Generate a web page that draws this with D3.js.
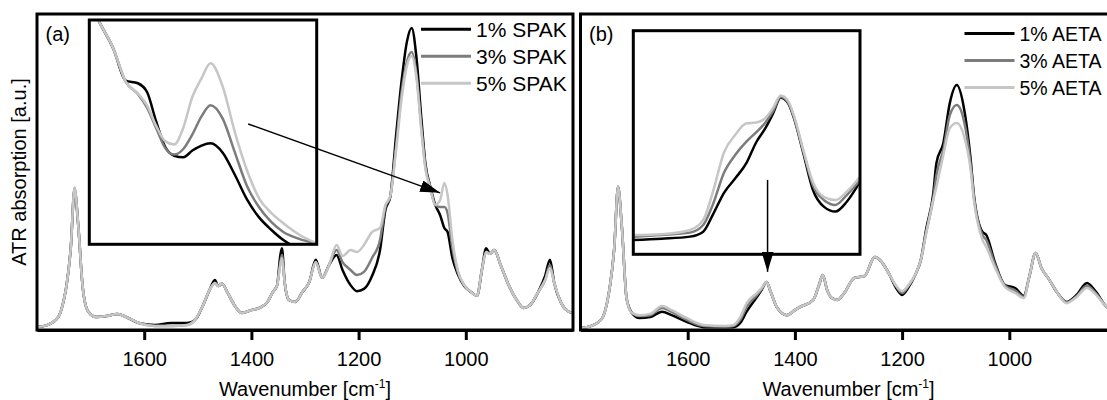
<!DOCTYPE html>
<html>
<head>
<meta charset="utf-8">
<script src="https://cdn.jsdelivr.net/npm/d3@7"></script>
<style>
  body { margin: 0; background: #fff; }
  text { font-family: "Liberation Sans", Arial, sans-serif; fill: #000; }
</style>
</head>
<body>
<div id="chart"></div>
<script>
// ---- data (absorbance in arbitrary units, 0..100 = frame bottom..top) ----
var wnA = [1800,1780,1760,1750,1745,1737,1730,1723,1715,1705,1690,1670,1650,1630,1610,1580,1550,1520,1505,1490,1478,
  1468,1462,1455,1445,1432,1418,1400,1385,1370,1360,1352,1346,1343,1338,1330,1318,1305,1292,1280,1268,
  1255,1241,1230,1215,1203,1190,1175,1160,1150,1141,1130,1120,1110,1101,1092,1083,1075,1067,1057,1048,
  1040,1034,1025,1015,1003,990,979,970,962,955,947,935,920,905,892,880,865,852,843,835,822,810,800];

var spak1 = [0.9,1.6,4.2,9.5,14.0,26.0,44.3,33.0,14.0,6.0,4.1,4.4,5.1,3.8,2.2,1.6,2.2,2.2,3.2,7.9,12.7,
  15.8,13.9,14.6,12.0,7.9,5.4,6.3,7.0,8.9,12.0,14.2,23.7,25.9,15.2,9.5,8.9,12.0,15.2,22.2,16.5,
  20.6,23.7,19.0,14.2,12.3,13.0,17.1,25.3,38.0,42.1,61.7,78.5,91.1,95.6,86.1,67.1,52.2,45.9,39.6,36.4,
  32.3,31.0,22.8,17.7,13.9,12.0,10.8,19.0,25.9,24.1,25.3,20.6,14.2,9.5,7.0,7.9,12.0,17.1,22.2,14.9,8.5,6.0,5.4];

var spak3 = [0.9,1.6,4.2,9.5,14.0,26.0,45.0,33.0,14.0,6.0,4.1,4.4,5.1,3.8,2.2,1.3,1.3,1.6,3.2,7.9,12.7,
  14.9,13.9,14.6,12.0,7.9,5.4,6.3,7.0,8.9,12.0,14.2,21.5,23.7,15.2,9.5,8.9,12.0,15.2,21.5,16.5,
  20.6,25.3,21.5,19.0,17.4,18.4,22.8,28.5,38.9,42.1,58.5,75.0,84.8,88.0,81.0,64.2,51.3,45.6,39.6,38.9,
  38.9,37.0,25.9,18.4,14.2,12.0,10.8,19.0,24.7,24.1,25.3,20.6,14.2,9.5,7.0,7.9,12.0,15.8,20.6,14.9,8.5,6.0,5.4];

var spak5 = [0.9,1.6,4.2,9.5,14.0,26.0,44.9,33.0,14.0,6.0,4.1,4.4,5.1,3.8,2.2,1.3,1.3,1.6,3.2,7.9,12.7,
  14.9,13.9,14.6,12.0,7.9,5.4,6.3,7.0,8.9,12.0,14.2,20.6,22.8,15.2,9.5,8.9,12.0,15.2,21.5,16.5,
  20.6,26.9,23.4,25.3,24.7,26.9,31.0,32.3,39.6,42.4,57.0,72.8,83.5,86.7,79.7,63.3,50.6,45.3,39.6,41.1,
  46.5,42.7,28.5,19.0,14.2,12.0,10.8,19.0,24.7,24.1,25.3,20.6,14.2,9.5,7.0,7.9,12.0,15.8,19.6,14.9,8.5,6.0,5.4];

var wnB = [1800,1780,1760,1750,1745,1737,1730,1723,1714,1704,1690,1670,1648,1630,1602,1570,1530,1515,1502,1490,1471,
  1462,1453,1445,1434,1415,1400,1390,1366,1355,1348,1340,1331,1321,1308,1289,1270,1251,1238,1225,1212,
  1200,1188,1174,1165,1155,1142,1136,1123,1111,1098,1085,1072,1066,1050,1043,1027,1008,989,973,962,
  951,940,925,910,893,875,855,838,818,800];

var aetac1 = [0.6,1.3,3.6,9.0,14.0,26.0,45.3,33.0,10.0,5.4,3.8,4.1,5.8,4.7,2.6,0.9,0.9,0.9,2.2,5.8,10.4,
  12.7,15.2,12.0,7.3,4.7,6.3,7.3,9.5,14.2,17.4,12.7,10.1,9.5,11.7,16.5,17.1,23.1,21.5,18.0,13.5,
  11.1,13.5,18.0,22.2,32.0,43.0,52.8,59.2,71.8,77.5,70.6,53.8,42.7,31.0,30.1,21.5,14.2,13.3,10.8,17.4,
  24.4,19.6,15.8,11.7,8.9,11.0,14.9,12.0,7.3,6.3];

var aetac3 = [0.6,1.3,3.6,9.0,14.0,26.0,45.3,33.0,10.0,5.4,4.4,4.7,7.0,5.7,3.2,1.3,1.1,1.3,3.2,7.3,11.0,
  13.0,15.2,12.0,7.3,4.7,6.3,7.3,9.5,14.2,17.4,12.7,10.1,9.5,11.7,16.5,17.1,23.1,21.5,18.0,14.0,
  11.7,14.0,18.0,22.2,31.0,41.5,49.0,57.0,68.0,71.2,66.5,52.2,42.0,30.0,28.5,20.8,14.0,12.5,10.5,17.4,
  24.4,19.6,15.8,11.7,8.7,10.6,14.0,11.5,7.3,6.3];

var aetac5 = [0.6,1.3,3.6,9.0,14.0,26.0,45.3,33.0,10.0,5.4,4.7,5.1,7.6,6.3,3.8,1.6,1.3,1.6,4.1,8.5,11.7,
  13.3,15.2,12.0,7.3,4.7,6.3,7.3,9.5,14.2,17.4,12.7,10.1,9.5,11.7,16.5,17.1,23.1,21.5,18.0,14.2,
  12.3,14.2,18.0,22.2,30.7,41.1,45.3,55.4,63.9,65.5,61.7,50.6,41.1,28.5,26.3,19.9,13.6,11.7,10.1,17.4,
  24.4,19.6,15.8,11.7,8.5,10.4,13.3,11.1,7.3,6.3];

// inset (a): zoom around the 1040 band, own scale
var insetWnA = [1074,1072,1067,1063,1059,1056,1053,1050,1047,1044,1041,1038,1035,1031,1027,1023,1019,1015,1011,1006,1000];
var insetSpak1 = [106,100,87,73,71.8,68,55,43.5,39.5,38.8,41.8,44,45,40.8,31,20,12,6.5,1.9,-2,-5];
var insetSpak3 = [106,100,87,72.5,67,61,52,43,40,42.5,49,57,62,56,41,26,16.5,10,5.5,2.5,0.3];
var insetSpak5 = [106,100,87,72.5,67.3,62,53,46,44.5,52,65.8,74,80.7,70.3,50,33,20.5,14,9.4,4.5,0.4];

// inset (b): zoom around the 1455 band
var insetWnB = [1520,1505,1490,1483,1478,1472,1466,1460,1455,1450,1446,1442,1438,1435,1430,1425,1419,1413,1407,1400];
var insetAetac1 = [6.4,7.0,7.9,10.1,17.5,27.5,34,41,50,56.5,63,70,67.5,61,45.2,29,21.2,19.1,23.5,32.5];
var insetAetac3 = [7.9,8.6,9.7,13.1,22,36.5,44.5,50.5,54.5,59,64,70.3,67.8,61.5,46.1,31,24.2,22.1,26.5,33.2];
var insetAetac5 = [8.6,9.0,10.9,15.4,27.5,45.5,53.5,58.6,58.9,61,65.5,71,68.5,62,46.6,32.5,25.6,24.3,28,34.7];

var xTicks = [1600, 1400, 1200, 1000];
var legendA = ["1% SPAK", "3% SPAK", "5% SPAK"];
var legendB = ["1% AETA", "3% AETA", "5% AETA"];

// arrows: [wavenumber, absorbance] start -> end on main scale
var arrowA = [[1406, 65.2], [1048, 43.4]];
var arrowB = [[1451, 47.5], [1451, 18.4]];

// ---- layout ----
var svgWidth = 1107, svgHeight = 400;
var plotTop = 14, plotH = 316, plotW = 536;
var colors = ["#000000", "#7c7c7c", "#c6c6c6"];

var svg = d3.select("#chart").append("svg")
  .attr("width", svgWidth)
  .attr("height", svgHeight);

svg.append("defs").append("marker")
  .attr("id", "head")
  .attr("markerUnits", "userSpaceOnUse")
  .attr("viewBox", "0 0 20 12")
  .attr("markerWidth", 20)
  .attr("markerHeight", 12)
  .attr("refX", 20)
  .attr("refY", 6)
  .attr("orient", "auto")
  .append("path")
  .attr("d", "M0,0 L20,6 L0,12 Z")
  .attr("fill", "#000");

function makeSeries(wn, vals) {
  return wn.map(function(w, i) { return {wn: w, v: vals[i]}; });
}

function drawPanel(opt) {
  var g = svg.append("g").attr("transform", `translate(${opt.left}, ${plotTop})`);

  var x = d3.scaleLinear().domain([1800, 800]).range([0, plotW]);
  var y = d3.scaleLinear().domain([0, 100]).range([plotH, 0]);

  var clipId = "clip" + opt.id;
  svg.select("defs").append("clipPath").attr("id", clipId)
    .append("rect").attr("width", plotW).attr("height", plotH);

  var line = d3.line()
    .x(d => x(d.wn))
    .y(d => y(d.v))
    .curve(d3.curveMonotoneX);

  var lines = g.append("g").attr("clip-path", `url(#${clipId})`);
  opt.series.forEach(function(s, i) {
    lines.append("path")
      .datum(makeSeries(opt.wn, s))
      .attr("fill", "none")
      .attr("stroke", colors[i])
      .attr("stroke-width", 2.5)
      .attr("stroke-linejoin", "round")
      .attr("d", line);
  });

  // inset
  var ins = opt.inset;
  var ix = d3.scaleLinear().domain(ins.domain).range([ins.x0, ins.x1]);
  var iy = d3.scaleLinear().domain([0, 100]).range([ins.y1, ins.y0]);
  var iclip = "iclip" + opt.id;
  svg.select("defs").append("clipPath").attr("id", iclip)
    .append("rect").attr("x", ins.x0).attr("y", ins.y0)
    .attr("width", ins.x1 - ins.x0).attr("height", ins.y1 - ins.y0);
  var iline = d3.line().x(d => ix(d.wn)).y(d => iy(d.v)).curve(d3.curveMonotoneX);
  var ig = g.append("g").attr("clip-path", `url(#${iclip})`);
  ins.series.forEach(function(s, i) {
    ig.append("path")
      .datum(makeSeries(ins.wn, s))
      .attr("fill", "none")
      .attr("stroke", colors[i])
      .attr("stroke-width", 2.5)
      .attr("d", iline);
  });
  g.append("rect")
    .attr("x", ins.x0).attr("y", ins.y0)
    .attr("width", ins.x1 - ins.x0).attr("height", ins.y1 - ins.y0)
    .attr("fill", "none").attr("stroke", "#000").attr("stroke-width", 3);

  // arrow
  g.append("line")
    .attr("x1", x(opt.arrow[0][0])).attr("y1", y(opt.arrow[0][1]))
    .attr("x2", x(opt.arrow[1][0])).attr("y2", y(opt.arrow[1][1]))
    .attr("stroke", "#000").attr("stroke-width", 1.5)
    .attr("marker-end", "url(#head)");

  // frame
  g.append("rect")
    .attr("width", plotW).attr("height", plotH)
    .attr("fill", "none").attr("stroke", "#000").attr("stroke-width", 3);

  // x axis
  var xAxis = d3.axisBottom(x).tickValues(xTicks).tickFormat(d3.format("d"))
    .tickSize(10).tickSizeOuter(0).tickPadding(12);
  var ax = g.append("g").attr("transform", `translate(0, ${plotH})`).call(xAxis);
  ax.select(".domain").attr("stroke-width", 3);
  ax.selectAll(".tick line").attr("stroke-width", 3);
  ax.selectAll(".tick text")
    .style("font-family", '"Liberation Sans", Arial, sans-serif')
    .style("font-size", "20px");

  var title = g.append("text")
    .attr("x", plotW / 2)
    .attr("y", 382)
    .attr("text-anchor", "middle")
    .style("font-size", "20px");
  title.append("tspan").text("Wavenumber [cm");
  title.append("tspan").attr("dy", -8).style("font-size", "12px").text("-1");
  title.append("tspan").attr("dy", 8).text("]");

  // panel label
  g.append("text").attr("x", 8.5).attr("y", 27).style("font-size", "20px").text(opt.label);

  // legend
  opt.legend.forEach(function(name, i) {
    var ly = opt.legendY + i * 27;
    g.append("line")
      .attr("x1", 384).attr("x2", 434)
      .attr("y1", ly).attr("y2", ly)
      .attr("stroke", colors[i]).attr("stroke-width", 3);
    g.append("text")
      .attr("x", 439).attr("y", ly + 7.5)
      .style("font-size", opt.legendSize)
      .text(name);
  });
}

drawPanel({
  id: "a", left: 37, label: "(a)", wn: wnA, series: [spak1, spak3, spak5],
  legend: legendA, legendY: 15.3, legendSize: "21px", arrow: arrowA,
  inset: {domain: [1075, 1000], x0: 52.3, x1: 279.7, y0: 6, y1: 230.3,
          wn: insetWnA, series: [insetSpak1, insetSpak3, insetSpak5]}
});

drawPanel({
  id: "b", left: 580.5, label: "(b)", wn: wnB, series: [aetac1, aetac3, aetac5],
  legend: legendB, legendY: 19.5, legendSize: "19.5px", arrow: arrowB,
  inset: {domain: [1520, 1400], x0: 52.8, x1: 279.5, y0: 16.7, y1: 240.3,
          wn: insetWnB, series: [insetAetac1, insetAetac3, insetAetac5]}
});

// y axis title
svg.append("text")
  .attr("transform", `translate(26, ${plotTop + plotH / 2}) rotate(-90)`)
  .attr("text-anchor", "middle")
  .style("font-size", "20px")
  .text("ATR absorption [a.u.]");
</script>
</body>
</html>
